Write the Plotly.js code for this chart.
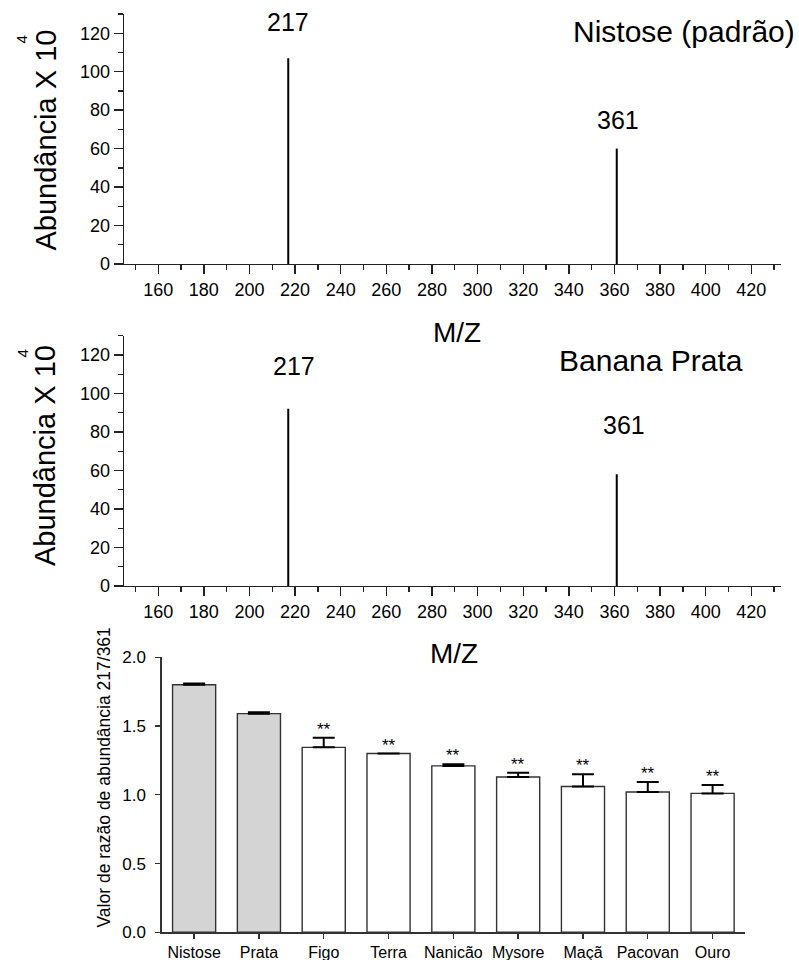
<!DOCTYPE html>
<html>
<head>
<meta charset="utf-8">
<script src="https://cdn.plot.ly/plotly-3.0.1.min.js"></script>
<style>
  html, body { margin: 0; padding: 0; background: #ffffff; }
  #chart { width: 799px; height: 960px; }
</style>
</head>
<body>
<div id="chart"></div>
<script>
// Mass spectrum peaks (m/z) and their abundance (x 10^4)
const peakMz = [217, 361];
const nistoseAbundance = [107, 60];
const prataAbundance = [92, 58];
const spectrumTitles = ['Nistose (padrão)', 'Banana Prata'];

// Abundance ratio 217/361 per sample (mean and upper error)
const cultivars = ['Nistose', 'Prata', 'Figo', 'Terra', 'Nanicão', 'Mysore', 'Maçã', 'Pacovan', 'Ouro'];
const ratioMean = [1.80, 1.59, 1.345, 1.30, 1.21, 1.13, 1.06, 1.02, 1.01];
const ratioErr = [0.01, 0.01, 0.07, 0.0, 0.012, 0.03, 0.09, 0.073, 0.061];
const significance = ['', '', '**', '**', '**', '**', '**', '**', '**'];

const W = 799, H = 960;
const fx = p => p / W;
const fy = p => 1 - p / H;
const FONT = 'Arial, "Liberation Sans", sans-serif';
const AXIS = '#222222';

// Turn peak lists into vertical stick segments
function sticks(mz, ab) {
  const xs = [], ys = [];
  mz.forEach((m, i) => { xs.push(m, m, null); ys.push(0, ab[i], null); });
  return { xs, ys };
}

const s1 = sticks(peakMz, nistoseAbundance);
const s2 = sticks(peakMz, prataAbundance);

const traces = [
  { type: 'scatter', mode: 'lines', x: s1.xs, y: s1.ys, xaxis: 'x', yaxis: 'y',
    line: { color: '#000', width: 2 }, connectgaps: false, hoverinfo: 'skip' },
  { type: 'scatter', mode: 'lines', x: s2.xs, y: s2.ys, xaxis: 'x2', yaxis: 'y2',
    line: { color: '#000', width: 2 }, connectgaps: false, hoverinfo: 'skip' },
  { type: 'bar', x: cultivars, y: ratioMean, xaxis: 'x3', yaxis: 'y3',
    marker: { color: cultivars.map((c, i) => i < 2 ? '#d4d4d4' : '#ffffff'),
              line: { color: '#333333', width: 1.4 } },
    // zero-size errors are left out so no cap is drawn on the bar top
    error_y: { type: 'data', symmetric: false, array: ratioErr.map(e => e > 0 ? e : null),
               arrayminus: ratioErr.map(() => 0), color: '#000', thickness: 2, width: 11 },
    hoverinfo: 'skip' }
];

// Shared styling for the two spectrum panels
function mzAxis(anchor) {
  return {
    domain: [fx(124), fx(781)], anchor: anchor, range: [145, 433],
    tickmode: 'linear', tick0: 0, dtick: 20,
    ticks: 'outside', ticklen: 9, tickwidth: 1.4, tickcolor: AXIS,
    minor: { tickmode: 'linear', tick0: 0, dtick: 10, ticks: 'outside', ticklen: 5, tickwidth: 1.4, tickcolor: AXIS, showgrid: false },
    showline: true, linecolor: AXIS, linewidth: 1.4,
    showgrid: false, zeroline: false,
    tickfont: { family: FONT, size: 18, color: '#000' }
  };
}
function abAxis(top, bottom, anchor) {
  return {
    domain: [fy(bottom), fy(top)], anchor: anchor, range: [0, 130],
    tickmode: 'linear', tick0: 0, dtick: 20,
    ticks: 'outside', ticklen: 9, tickwidth: 1.4, tickcolor: AXIS,
    minor: { tickmode: 'linear', tick0: 0, dtick: 10, ticks: 'outside', ticklen: 5, tickwidth: 1.4, tickcolor: AXIS, showgrid: false },
    showline: true, linecolor: AXIS, linewidth: 1.4,
    showgrid: false, zeroline: false,
    tickfont: { family: FONT, size: 18, color: '#000' }
  };
}

const annotations = [];
function paperText(text, x, y, size, extra) {
  annotations.push(Object.assign({
    text: text, xref: 'paper', yref: 'paper', x: fx(x), y: fy(y),
    xanchor: 'center', yanchor: 'middle', showarrow: false,
    font: { family: FONT, size: size, color: '#000' }
  }, extra || {}));
}

// Panel titles
paperText(spectrumTitles[0], 684, 31, 30);
paperText(spectrumTitles[1], 651, 360, 30);

// Axis titles
paperText('M/Z', 457, 332, 28);
paperText('M/Z', 454, 653, 28);
paperText('Abundância X 10', 45, 140.5, 29, { textangle: -90 });
paperText('4', 21.5, 40, 15, { textangle: -90 });
paperText('Abundância X 10', 45, 456, 29, { textangle: -90 });
paperText('4', 21.5, 354, 15, { textangle: -90 });
paperText('Valor de razão de abundância 217/361', 103, 777.5, 17.5, { textangle: -90 });

// Peak labels above each stick
const peakLabelY = [[125.7, 74.8], [114.5, 83.6]];
const peakLabelShift = [[0, 1.5], [6, 7]];
[['x', 'y'], ['x2', 'y2']].forEach((ax, p) => {
  peakMz.forEach((m, i) => {
    annotations.push({
      text: String(m), xref: ax[0], yref: ax[1], x: m, y: peakLabelY[p][i],
      xshift: peakLabelShift[p][i], xanchor: 'center', yanchor: 'middle', showarrow: false,
      font: { family: FONT, size: 25, color: '#000' }
    });
  });
});

// Significance marks above the error bars
cultivars.forEach((c, i) => {
  if (!significance[i]) return;
  annotations.push({
    text: significance[i], xref: 'x3', yref: 'y3', x: c, y: ratioMean[i] + ratioErr[i],
    xanchor: 'center', yanchor: 'bottom', yshift: -3, showarrow: false,
    font: { family: FONT, size: 17, color: '#000' }
  });
});

const layout = {
  width: W, height: H,
  margin: { l: 0, r: 0, t: 0, b: 0, pad: 0 },
  paper_bgcolor: '#ffffff', plot_bgcolor: 'rgba(0,0,0,0)',
  showlegend: false,
  font: { family: FONT, color: '#000' },
  xaxis: mzAxis('y'),
  yaxis: abAxis(14, 264, 'x'),
  xaxis2: mzAxis('y2'),
  yaxis2: abAxis(335.7, 586, 'x2'),
  xaxis3: {
    domain: [fx(161.7), fx(745)], anchor: 'y3', type: 'category', range: [-0.5, 8.5],
    ticks: 'outside', ticklen: 5, tickwidth: 1.4, tickcolor: '#333',
    showline: true, linecolor: '#333', linewidth: 1.4, showgrid: false, zeroline: false,
    tickfont: { family: FONT, size: 16, color: '#000' }
  },
  yaxis3: {
    domain: [fy(932.3), fy(657.3)], anchor: 'x3', range: [0, 2],
    tickmode: 'linear', tick0: 0, dtick: 0.5, tickformat: '.1f',
    ticks: 'outside', ticklen: 5, tickwidth: 1.4, tickcolor: '#333',
    ticklabelstandoff: 6,
    showline: true, linecolor: '#333', linewidth: 1.4, showgrid: false, zeroline: false,
    tickfont: { family: FONT, size: 17, color: '#000' }
  },
  bargap: 0.335,
  annotations: annotations
};

Plotly.newPlot('chart', traces, layout, { staticPlot: true, displayModeBar: false });
</script>
</body>
</html>
